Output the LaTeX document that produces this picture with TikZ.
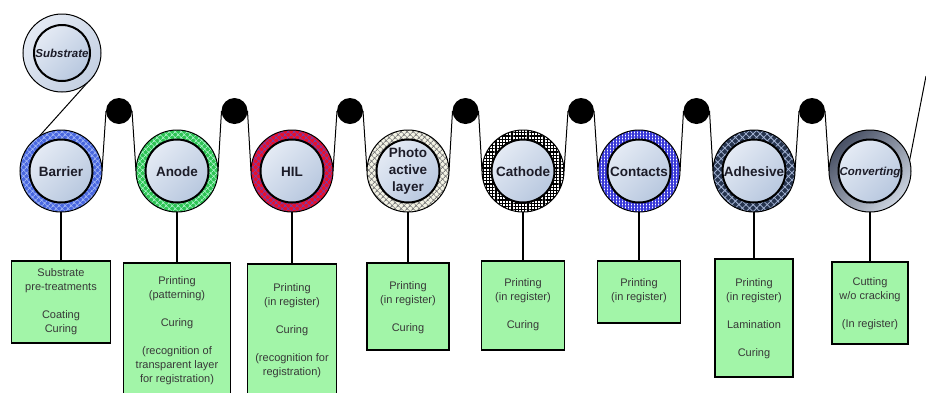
\documentclass[tikz,border=0pt]{standalone}
\usepackage{fontspec}
\setmainfont{Liberation Sans}
\usetikzlibrary{patterns.meta,backgrounds}

\definecolor{coreLight}{HTML}{E4EAF4}
\definecolor{coreDark}{HTML}{B8C8DF}
\definecolor{subRing}{HTML}{C4D0E2}
\definecolor{boxGreen}{HTML}{A2F5A8}
\definecolor{boxText}{HTML}{383838}
\definecolor{lblText}{HTML}{1C1C28}
\definecolor{barrierA}{HTML}{4A68E0}
\definecolor{barrierB}{HTML}{9FB4F4}
\definecolor{anodeA}{HTML}{2EC454}
\definecolor{anodeB}{HTML}{A8F0C8}
\definecolor{hilA}{HTML}{E8102C}
\definecolor{hilB}{HTML}{7040B0}
\definecolor{photoA}{HTML}{F2F2E4}
\definecolor{photoB}{HTML}{7C7C7C}
\definecolor{contactA}{HTML}{3838D8}
\definecolor{adhA}{HTML}{26344E}
\definecolor{adhB}{HTML}{A4B4D4}
\definecolor{convDark}{HTML}{485064}
\definecolor{convLight}{HTML}{CCD4E0}

\begin{document}
\begin{tikzpicture}[x=1pt,y=-1pt,
  ring/.style={circle, minimum size=82pt, inner sep=0pt, outer sep=0pt, draw=black, line width=1pt},
  core/.style={circle, minimum size=63pt, inner sep=0pt, outer sep=0pt, draw=black, line width=2pt,
    top color=coreLight, bottom color=coreDark, shading angle=45},
  roller/.style={circle, fill=black, minimum size=26pt, inner sep=0pt, outer sep=0pt},
  web/.style={line width=1pt},
  stem/.style={line width=2pt},
  stepbox/.style={rectangle, draw=black, line width=1.6pt, fill=boxGreen, inner sep=0pt, outer sep=0pt, anchor=north},
  boxtext/.style={font=\fontsize{11}{14}\selectfont, text=boxText, align=center, inner sep=0pt, anchor=north},
  lbl/.style={font=\bfseries\fontsize{13.5}{16.7}\selectfont, text=lblText, align=center, inner sep=0pt},
  lbli/.style={font=\bfseries\itshape\fontsize{11.5}{14}\selectfont, text=lblText, inner sep=0pt, anchor=base},
  hatch/.style n args={4}{preaction={fill=#1}, pattern={Hatch[angle=45, distance=#3, line width=#4]}, pattern color=#2},
  gridded/.style n args={4}{preaction={fill=#1}, pattern={Hatch[angle=0, distance=#3, line width=#4]}, pattern color=#2},
]
\useasboundingbox (0,0) rectangle (926,392);
\clip (0,0) rectangle (926,392);

% supply roll
\node[ring, minimum size=78pt, top color=coreLight, bottom color=subRing, shading angle=45] (sub) at (62,53) {};
\node[core, minimum size=56pt] (subc) at (sub.center) {};
\node[lbli] (subl) at (62,57) {Substrate};

% process stations
\node[ring, hatch={barrierA}{barrierB}{4pt}{1pt}] (b1) at (61,171) {};
\node[ring, hatch={anodeA}{anodeB}{4pt}{0.8pt}] (b2) at (177,171) {};
\node[ring, hatch={hilA}{hilB}{4pt}{0.8pt}] (b3) at (292,171) {};
\node[ring, hatch={photoA}{photoB}{4pt}{0.9pt}] (b4) at (408,171) {};
\node[ring, gridded={white}{black}{3.2pt}{1.2pt}] (b5) at (523,171) {};
\node[ring, gridded={white}{contactA}{3pt}{1.5pt}] (b6) at (639,171) {};
\node[ring, hatch={adhA}{adhB}{5pt}{0.8pt}] (b7) at (754,171) {};
\node[ring, top color=convDark, bottom color=convLight, shading angle=45] (b8) at (870,171) {};

\foreach \i in {1,...,8} {
  \node[core] (c\i) at (b\i.center) {};
}

\node[lbl, anchor=base] (l1) at (61,176) {Barrier};
\node[lbl, anchor=base] (l2) at (177,176) {Anode};
\node[lbl, anchor=base] (l3) at (292,176) {HIL};
\node[lbl] (l4) at (408,171) {Photo\\active\\layer};
\node[lbl, anchor=base] (l5) at (523,176) {Cathode};
\node[lbl, anchor=base] (l6) at (639,176) {Contacts};
\node[lbl, anchor=base] (l7) at (754,176) {Adhesive};
\node[lbli] (l8) at (870,175) {Converting};

% guide rollers
\node[roller] (r1) at (119,111) {};
\node[roller] (r2) at (234.5,111) {};
\node[roller] (r3) at (350,111) {};
\node[roller] (r4) at (465.5,111) {};
\node[roller] (r5) at (581,111) {};
\node[roller] (r6) at (696.5,111) {};
\node[roller] (r7) at (812,111) {};

\coordinate (webend) at (926,76);

% web path, running behind the rolls
\begin{scope}[on background layer]
  \draw[web] (sub.-35) -- (b1.122);
  \foreach \i [evaluate=\i as \j using int(\i+1)] in {1,...,7} {
    \draw[web] (b\i.east) -- (r\i.west);
    \draw[web] (r\i.east) -- (b\j.west);
  }
  \draw[web] (b8.15) -- (webend);
\end{scope}

% process step boxes
\node[stepbox, minimum width=99pt, minimum height=82pt] (t1) at (61,261) {};
\node[stepbox, minimum width=107pt, minimum height=136pt] (t2) at (177,263) {};
\node[stepbox, minimum width=89pt, minimum height=134pt] (t3) at (292,264) {};
\node[stepbox, minimum width=82pt, minimum height=87pt] (t4) at (408,263) {};
\node[stepbox, minimum width=83pt, minimum height=89pt] (t5) at (523,261) {};
\node[stepbox, minimum width=83pt, minimum height=62pt] (t6) at (639,261) {};
\node[stepbox, minimum width=78pt, minimum height=118pt] (t7) at (754,259) {};
\node[stepbox, minimum width=76pt, minimum height=82pt] (t8) at (870,262) {};

\node[boxtext] (x1) at (61,268.5) {Substrate\\pre-treatments\\[14pt]Coating\\Curing};
\node[boxtext] (x2) at (177,276.5) {Printing\\(patterning)\\[14pt]Curing\\[14pt](recognition of\\transparent layer\\for registration)};
\node[boxtext] (x3) at (292,283.5) {Printing\\(in register)\\[14pt]Curing\\[14pt](recognition for\\registration)};
\node[boxtext] (x4) at (408,281.5) {Printing\\(in register)\\[14pt]Curing};
\node[boxtext] (x5) at (523,278.5) {Printing\\(in register)\\[14pt]Curing};
\node[boxtext] (x6) at (639,278.5) {Printing\\(in register)};
\node[boxtext] (x7) at (754,278.5) {Printing\\(in register)\\[14pt]Lamination\\[14pt]Curing};
\node[boxtext] (x8) at (870,277.5) {Cutting\\w/o cracking\\[14pt](In register)};

% links from each station to its step box
\foreach \i in {1,...,8} {
  \draw[stem] (b\i.south) -- (t\i.north);
}
\end{tikzpicture}
\end{document}
